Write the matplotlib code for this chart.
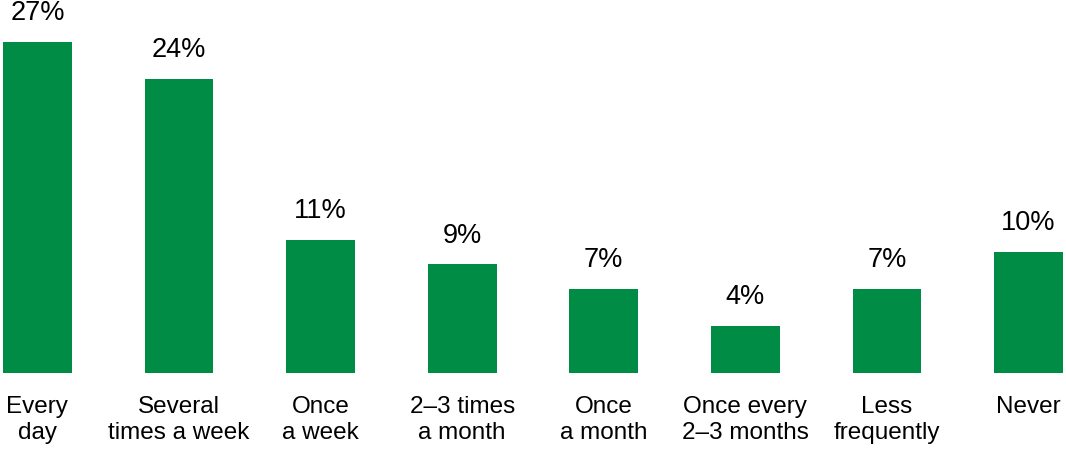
import matplotlib
matplotlib.use("Agg")
import matplotlib.pyplot as plt

categories = ["Every\nday", "Several\ntimes a week", "Once\na week", "2–3 times\na month",
              "Once\na month", "Once every\n2–3 months", "Less\nfrequently", "Never"]
values = [27, 24, 11, 9, 7, 4, 7, 10]
value_labels = ["27%", "24%", "11%", "9%", "7%", "4%", "7%", "10%"]

plt.rcParams['font.family'] = ['Liberation Sans', 'DejaVu Sans']

fig = plt.figure(figsize=(10.66, 4.49), dpi=100)
ax = fig.add_axes([0, 76.5/449, 1, 372.5/449])
x = list(range(len(values)))
w = 0.486
base = 0.235
ax.bar(x, [v - base for v in values], bottom=base, width=w, color="#008C44")
ax.set_xlim(-0.264, 7.264)
ax.set_ylim(base, base + 372.5/12.35)
ax.axis('off')

for xi, v, lab in zip(x, values, value_labels):
    ax.annotate(lab, (xi, v), xytext=(0, 15.5), textcoords='offset points',
                ha='center', va='baseline', fontsize=19.5, color='black',
                annotation_clip=False)

for xi, cat in zip(x, categories):
    ax.annotate(cat, (xi, base), xytext=(0, -17), textcoords='offset points',
                ha='center', va='top', fontsize=17.5, color='black',
                multialignment='center', linespacing=1.22, annotation_clip=False)

fig.savefig("out.png", dpi=100)
